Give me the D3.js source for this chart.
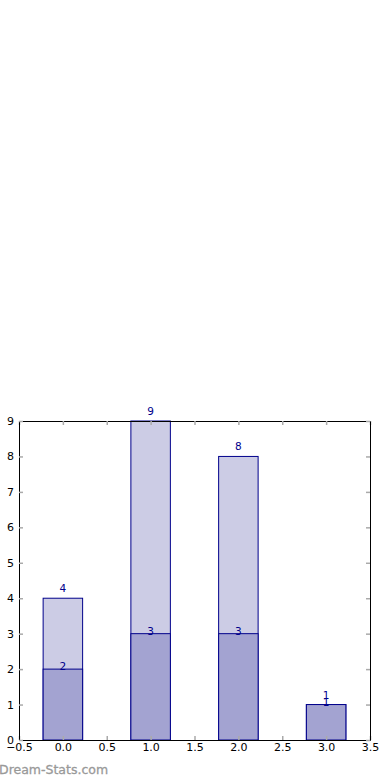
<html>
<head>
<meta charset="utf-8">
<script src="https://d3js.org/d3.v7.min.js"></script>
<style>
  body { margin: 0; background: #fff; font-family: 'DejaVu Sans', sans-serif; }
  svg { display: block; }
</style>
</head>
<body>
<div id="chart"></div>
<script>
// chart values
var positions = [0, 1, 2, 3];
var totals = [4, 9, 8, 1];
var parts = [2, 3, 3, 1];
var xTicks = [-0.5, 0, 0.5, 1, 1.5, 2, 2.5, 3, 3.5];
var yTicks = [0, 1, 2, 3, 4, 5, 6, 7, 8, 9];

var W = 390, H = 780;
var padL = 19, padR = 370, padT = 421, padB = 740;
var barW = 0.45;

var svg = d3.select('#chart').append('svg')
  .attr('width', W).attr('height', H);

var x = d3.scaleLinear().domain([-0.5, 3.5]).range([padL, padR]);
var y = d3.scaleLinear().domain([0, 9]).range([padB, padT]);

// light bars (totals)
svg.selectAll('rect.tot').data(totals).enter().append('rect')
  .attr('class', 'tot')
  .attr('x', function(d, i) { return x(positions[i] - barW / 2); })
  .attr('y', function(d) { return y(d); })
  .attr('width', function() { return x(barW) - x(0); })
  .attr('height', function(d) { return y(0) - y(d); })
  .attr('fill', '#ccccE5').attr('stroke', '#00008b').attr('stroke-width', 1);

// dark bars (parts)
svg.selectAll('rect.part').data(parts).enter().append('rect')
  .attr('class', 'part')
  .attr('x', function(d, i) { return x(positions[i] - barW / 2); })
  .attr('y', function(d) { return y(d); })
  .attr('width', function() { return x(barW) - x(0); })
  .attr('height', function(d) { return y(0) - y(d); })
  .attr('fill', '#a3a3d1').attr('stroke', '#00008b').attr('stroke-width', 1);

// value labels
function labels(data, off) {
  svg.append('g').selectAll('text').data(data).enter().append('text')
    .attr('x', function(d, i) { return x(positions[i]); })
    .attr('y', function(d) { return y(d) + off; })
    .attr('text-anchor', 'middle')
    .attr('font-family', 'DejaVu Sans')
    .attr('font-size', 10.5)
    .attr('fill', '#00008b')
    .text(function(d) { return d; });
}
labels(totals, -6);
labels(parts, 1);

// axes frame with inward grey ticks
var gx = svg.append('g').attr('transform', 'translate(0,' + padB + ')')
  .call(d3.axisBottom(x).tickValues(xTicks).tickSizeInner(-4).tickSizeOuter(0));
var gxt = svg.append('g').attr('transform', 'translate(0,' + padT + ')')
  .call(d3.axisTop(x).tickValues(xTicks).tickSizeInner(-4).tickSizeOuter(0)
    .tickFormat(''));
var gy = svg.append('g').attr('transform', 'translate(' + padL + ',0)')
  .call(d3.axisLeft(y).tickValues(yTicks).tickSizeInner(-4).tickSizeOuter(0));
var gyr = svg.append('g').attr('transform', 'translate(' + padR + ',0)')
  .call(d3.axisRight(y).tickValues(yTicks).tickSizeInner(-4).tickSizeOuter(0)
    .tickFormat(''));

[gx, gxt, gy, gyr].forEach(function(g) {
  g.selectAll('.domain').attr('stroke', '#000').attr('stroke-width', 1);
  g.selectAll('.tick line').attr('stroke', '#aaa').attr('stroke-width', 1.5);
  g.selectAll('.tick text').attr('font-family', 'DejaVu Sans').attr('font-size', 11).attr('fill', '#000');
});
gx.selectAll('.tick text').attr('y', 3)
  .text(function(d) { return d < 0 ? '\u2212' + Math.abs(d).toFixed(1) : d.toFixed(1); });
gy.selectAll('.tick text').attr('x', -5);

// watermark
svg.append('text').attr('x', -1).attr('y', 774)
  .attr('font-family', 'DejaVu Sans').attr('font-size', 12.5)
  .attr('stroke', '#999').attr('stroke-width', 0.3)
  .attr('fill', '#999').text('Dream-Stats.com');
</script>
</body>
</html>
